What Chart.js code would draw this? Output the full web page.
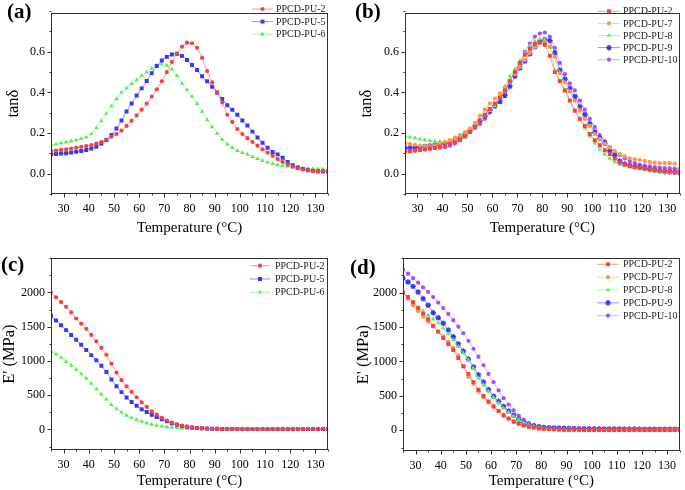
<!DOCTYPE html>
<html lang="en">
<head>
<meta charset="UTF-8">
<title>DMA curves</title>
<script src="https://cdn.jsdelivr.net/npm/chart.js"></script>
<style>
  body { margin: 0; background: #fff; }
  #wrap { position: relative; width: 685px; height: 490px; overflow: hidden; }
  canvas { position: absolute; }
  .tag { position: absolute; font: bold 21px 'Liberation Serif', serif; line-height: 21px; color: #000; }
</style>
</head>
<body>
<div id="wrap">
  <canvas id="chartA" width="342" height="240" style="left:0;top:0"></canvas>
  <canvas id="chartB" width="331" height="240" style="left:354px;top:0"></canvas>
  <canvas id="chartC" width="342" height="245" style="left:0;top:245px"></canvas>
  <canvas id="chartD" width="331" height="245" style="left:354px;top:245px"></canvas>
  <div class="tag" style="left:7px;top:1px">(a)</div>
  <div class="tag" style="left:355px;top:1px">(b)</div>
  <div class="tag" style="left:1px;top:254px">(c)</div>
  <div class="tag" style="left:350px;top:257px">(d)</div>
</div>

<script>
// temperature (°C), shared by every curve
const temps = [25,27,29,31,33,35,37,39,41,43, 45,47,49,51,53,55,57,59,61,63,
  65,67,69,71,73,75,77,79,81,83, 85,87,89,91,93,95,97,99,101,103,
  105,107,109,111,113,115,117,119,121,123, 125,127,129,131,133,135];

const xTicks = [30,40,50,60,70,80,90,100,110,120,130];
const tanTicks = [0, 0.2, 0.4, 0.6];
const modTicks = [0, 500, 1000, 1500, 2000];

// (a) tan delta
const tanA_PU2 = [.112,.114,.117,.120,.124,.128,.132,.136,.141,.148, .156,.168,.182,.195,.212,.235,.26,.287,.315,.345,
  .38,.415,.455,.50,.55,.59,.625,.645,.642,.62, .57,.505,.45,.40,.35,.29,.255,.22,.195,.175,
  .156,.138,.12,.104,.088,.072,.058,.045,.034,.026, .021,.016,.012,.011,.012,.014];
const tanA_PU5 = [.096,.097,.099,.101,.104,.108,.112,.117,.124,.133, .148,.166,.19,.222,.262,.306,.345,.385,.42,.456,
  .495,.53,.557,.575,.587,.59,.58,.56,.535,.51, .48,.455,.428,.398,.368,.337,.315,.29,.262,.237,
  .207,.178,.152,.128,.107,.095,.078,.058,.042,.031, .023,.017,.013,.012,.011,.011];
const tanA_PU6 = [.141,.145,.15,.155,.16,.165,.172,.18,.195,.225, .26,.295,.333,.368,.40,.421,.443,.462,.482,.50,
  .518,.533,.54,.533,.513,.482,.444,.413,.38,.345, .306,.265,.23,.198,.168,.145,.128,.113,.103,.095,
  .084,.074,.064,.055,.049,.043,.039,.036,.033,.031, .028,.026,.024,.023,.023,.022];

// (b) tan delta
const tanB_PU2 = [.110,.112,.114,.117,.120,.124,.128,.133,.139,.146, .155,.167,.183,.205,.23,.255,.29,.318,.345,.375,
  .41,.455,.50,.545,.585,.615,.638,.646,.635,.58, .50,.455,.41,.36,.31,.27,.235,.195,.165,.14,
  .115,.097,.075,.055,.045,.038,.033,.029,.025,.021, .018,.015,.013,.011,.01,.008];
const tanB_PU7 = [.15,.147,.142,.138,.136,.136,.14,.147,.155,.165, .178,.19,.205,.222,.25,.285,.315,.345,.37,.395,
  .425,.46,.49,.525,.56,.595,.625,.645,.648,.625, .575,.495,.45,.405,.36,.31,.27,.235,.195,.17,
  .148,.128,.112,.097,.085,.075,.071,.068,.063,.058, .054,.052,.052,.052,.05,.025];
const tanB_PU8 = [.185,.18,.175,.17,.165,.162,.159,.158,.158,.16, .165,.175,.19,.21,.235,.258,.285,.31,.335,.375,
  .43,.48,.515,.555,.595,.63,.652,.664,.66,.62, .51,.46,.415,.36,.31,.265,.225,.185,.15,.12,
  .095,.075,.057,.045,.038,.032,.028,.024,.02,.016, .012,.008,.006,.005,.005,.005];
const tanB_PU9 = [.125,.127,.129,.131,.134,.137,.14,.145,.15,.157, .165,.175,.19,.21,.235,.26,.285,.31,.335,.355,
  .385,.43,.48,.52,.555,.59,.625,.65,.66,.655, .595,.51,.465,.42,.38,.33,.29,.245,.205,.175,
  .15,.115,.09,.062,.047,.04,.035,.031,.026,.021, .017,.013,.01,.008,.007,.006];
const tanB_PU10 = [.11,.112,.114,.117,.12,.123,.126,.128,.13,.138, .148,.165,.185,.205,.225,.245,.27,.3,.33,.37,
  .41,.455,.5,.545,.6,.64,.675,.69,.695,.675, .62,.545,.49,.445,.41,.36,.315,.27,.23,.19,
  .16,.13,.105,.092,.075,.062,.052,.045,.04,.036, .033,.03,.028,.026,.025,.022];

// (c) storage modulus, MPa
const modC_PU2 = [2000,1930,1860,1790,1710,1620,1545,1470,1380,1285, 1190,1090,960,830,720,630,550,470,395,330,
  265,215,170,130,100,75,55,40,30,22, 16,12,9,7,6,5,5,5,4,4,
  4,4,4,4,4,4,4,4,4,4, 4,4,4,4,4,4];
const modC_PU5 = [1660,1590,1520,1450,1380,1310,1235,1160,1085,1010, 930,840,730,630,545,466,400,345,295,255,
  215,180,148,118,92,68,50,38,28,22, 18,14,11,9,8,7,6,6,5,5,
  5,5,5,5,5,5,5,5,5,5, 5,5,5,5,5,5];
const modC_PU6 = [1140,1100,1050,990,935,875,810,745,670,590, 515,440,360,300,250,205,170,140,115,92,
  72,58,47,38,30,24,19,15,12,10, 8,7,6,5,5,5,5,5,5,5,
  5,5,5,5,5,5,5,5,5,5, 5,5,5,5,5,5];

// (d) storage modulus, MPa
const modD_PU2 = [2000,1935,1860,1775,1695,1614,1520,1430,1340,1255, 1166,1050,930,820,700,588,500,420,350,280,
  217,170,125,95,72,53,40,28,22,18, 15,12,10,9,8,7,6,6,5,5,
  5,5,5,5,5,5,5,5,5,5, 5,5,5,5,5,5];
const modD_PU7 = [2010,1910,1815,1730,1650,1576,1510,1440,1365,1285, 1200,1085,930,775,675,564,480,405,335,280,
  227,175,135,100,76,58,42,30,22,17, 14,11,9,8,7,6,6,5,5,5,
  5,5,5,5,5,5,5,5,5,5, 5,5,5,5,5,5];
const modD_PU8 = [2010,1935,1865,1795,1730,1672,1615,1560,1485,1400, 1311,1215,1120,1020,900,757,660,565,475,395,
  323,260,205,155,115,82,60,42,30,24, 20,17,15,13,12,11,10,10,10,10,
  10,10,10,10,10,10,10,10,10,10, 10,10,10,10,10,10];
const modD_PU9 = [2212,2154,2090,2010,1913,1817,1710,1635,1555,1455, 1359,1255,1150,1035,920,805,700,590,495,420,
  347,280,220,160,115,82,62,48,40,36, 34,32,30,28,26,25,24,23,22,21,
  20,20,19,19,18,18,17,17,16,16, 16,15,15,15,15,15];
const modD_PU10 = [2337,2275,2210,2145,2075,2010,1935,1855,1775,1690, 1600,1505,1410,1300,1185,1070,945,820,700,580,
  467,375,290,215,155,106,80,62,48,40, 34,30,26,22,18,15,12,9,6,4,
  3,2,2,2,2,2,2,2,2,2, 2,2,2,2,2,2];

// colours
const RED = { mark: 'rgb(245,65,65)', line: 'rgba(250,120,120,0.75)' };
const BLUE = { mark: 'rgb(55,55,245)', line: 'rgba(110,110,250,0.75)' };
const GREEN = { mark: 'rgb(90,235,90)', line: 'rgba(140,245,140,0.75)' };
const ORANGE = { mark: 'rgb(255,150,70)', line: 'rgba(255,185,125,0.75)' };
const PURPLE = { mark: 'rgb(165,80,255)', line: 'rgba(200,145,255,0.75)' };

const FONT = "'Liberation Serif', 'Times New Roman', serif";

function serie(label, values, col, shape) {
  let r = 2.1;
  if (shape === 'rect') r = 2.8;
  if (shape === 'triangle') r = 2.6;
  if (shape === 'star') r = 2.8;
  return {
    label: label,
    data: temps.map((t, i) => ({ x: t, y: values[i] })),
    borderColor: col.line,
    borderWidth: 1,
    pointBackgroundColor: col.mark,
    pointBorderColor: col.mark,
    pointBorderWidth: shape === 'star' ? 1.3 : 0,
    pointStyle: shape,
    pointRadius: r,
    tension: 0
  };
}

// frame, minor ticks and the little legend box
const dmaPlugin = {
  id: 'dma',
  afterDraw(chart, args, o) {
    const { ctx, chartArea: a, scales: { x, y } } = chart;
    const L = Math.round(a.left) + 0.5, R = Math.round(a.right) - 0.5;
    const T = Math.round(a.top) + 0.5, B = Math.round(a.bottom) - 0.5;
    ctx.save();
    ctx.strokeStyle = '#333';
    ctx.lineWidth = 1;
    ctx.strokeRect(L, T, R - L, B - T);

    ctx.beginPath();
    for (let v = 25; v <= 135; v += 5) {
      const px = Math.round(x.getPixelForValue(v)) + 0.5;
      const len = v % 10 === 0 ? 4 : 2;
      ctx.moveTo(px, B); ctx.lineTo(px, B + len);
    }
    const n = Math.round((o.yMax - o.yMinorStart) / o.yMinor);
    for (let k = 0; k <= n; k++) {
      const v = o.yMinorStart + k * o.yMinor;
      const py = Math.round(y.getPixelForValue(v)) + 0.5;
      const major = o.yMajor.some(m => Math.abs(m - v) < o.yMinor / 10);
      ctx.moveTo(L, py); ctx.lineTo(L - (major ? 4 : 2), py);
    }
    ctx.stroke();

    // legend
    const lg = o.legend;
    ctx.font = '10px ' + FONT;
    ctx.textBaseline = 'middle';
    chart.data.datasets.forEach((ds, i) => {
      const yy = lg.y0 + i * lg.dy;
      ctx.strokeStyle = ds.borderColor;
      ctx.lineWidth = 1;
      ctx.beginPath();
      ctx.moveTo(lg.x0, yy); ctx.lineTo(lg.x1, yy);
      ctx.stroke();
      ctx.fillStyle = ds.pointBackgroundColor;
      ctx.strokeStyle = ds.pointBackgroundColor;
      ctx.lineWidth = ds.pointBorderWidth;
      Chart.helpers.drawPoint(ctx, { pointStyle: ds.pointStyle, radius: ds.pointRadius, rotation: 0,
        borderWidth: ds.pointBorderWidth }, (lg.x0 + lg.x1) / 2, yy);
      ctx.fillStyle = '#222';
      ctx.fillText(ds.label, lg.tx, yy + 0.5);
    });
    ctx.restore();
  }
};

function panel(id, p) {
  return new Chart(document.getElementById(id), {
    type: 'line',
    data: { datasets: p.series },
    options: {
      responsive: false,
      animation: false,
      layout: { padding: { top: p.padTop, right: p.padRight, left: 0, bottom: 0 } },
      plugins: {
        legend: { display: false },
        tooltip: { enabled: false },
        dma: { yMax: p.yMax, yMinorStart: p.yMinorStart, yMinor: p.yMinor, yMajor: p.yTicks, legend: p.legend }
      },
      scales: {
        x: {
          type: 'linear', min: 25, max: 135,
          afterBuildTicks: s => { s.ticks = xTicks.map(v => ({ value: v })); },
          afterFit: s => { s.height = p.xHeight; },
          grid: { display: false, drawTicks: false },
          border: { display: false },
          ticks: { padding: 8, color: '#000', font: { family: FONT, size: 12 }, maxRotation: 0, autoSkip: false },
          title: { display: true, text: 'Temperature (°C)', color: '#000', font: { family: FONT, size: 15 },
            padding: { top: 0, bottom: p.xTitlePad } }
        },
        y: {
          type: 'linear', min: p.yMin, max: p.yMax,
          afterBuildTicks: s => { s.ticks = p.yTicks.map(v => ({ value: v })); },
          afterFit: s => { s.width = p.yWidth; },
          grid: { display: false, drawTicks: false },
          border: { display: false },
          ticks: { padding: 6, color: '#000', font: { family: FONT, size: 12 }, callback: p.fmt },
          title: { display: true, text: p.yTitle, color: '#000', font: { family: FONT, size: 16.5 },
            padding: { top: p.yTitlePad, bottom: 0 } }
        }
      }
    },
    plugins: [dmaPlugin]
  });
}

const tanFmt = v => v.toFixed(1);
const modFmt = v => String(v);

panel('chartA', {
  series: [
    serie('PPCD-PU-2', tanA_PU2, RED, 'circle'),
    serie('PPCD-PU-5', tanA_PU5, BLUE, 'rect'),
    serie('PPCD-PU-6', tanA_PU6, GREEN, 'triangle')
  ],
  yMin: -0.1, yMax: 0.79, yTicks: tanTicks, yMinorStart: -0.1, yMinor: 0.1, fmt: tanFmt, yTitle: 'tanδ',
  padTop: 1, padRight: 14, yWidth: 51, xHeight: 46, xTitlePad: 3, yTitlePad: 4,
  legend: { x0: 252, x1: 273, tx: 276, y0: 9, dy: 12.6 }
});

panel('chartB', {
  series: [
    serie('PPCD-PU-2', tanB_PU2, RED, 'rect'),
    serie('PPCD-PU-7', tanB_PU7, ORANGE, 'circle'),
    serie('PPCD-PU-8', tanB_PU8, GREEN, 'triangle'),
    serie('PPCD-PU-9', tanB_PU9, BLUE, 'star'),
    serie('PPCD-PU-10', tanB_PU10, PURPLE, 'circle')
  ],
  yMin: -0.1, yMax: 0.79, yTicks: tanTicks, yMinorStart: -0.1, yMinor: 0.1, fmt: tanFmt, yTitle: 'tanδ',
  padTop: 1, padRight: 5, yWidth: 51, xHeight: 46, xTitlePad: 3, yTitlePad: 3,
  legend: { x0: 244, x1: 266, tx: 269, y0: 11.3, dy: 12.1 }
});

panel('chartC', {
  series: [
    serie('PPCD-PU-2', modC_PU2, RED, 'circle'),
    serie('PPCD-PU-5', modC_PU5, BLUE, 'rect'),
    serie('PPCD-PU-6', modC_PU6, GREEN, 'triangle')
  ],
  yMin: -300, yMax: 2500, yTicks: modTicks, yMinorStart: -250, yMinor: 250, fmt: modFmt, yTitle: "E' (MPa)",
  padTop: 12, padRight: 14, yWidth: 51, xHeight: 40, xTitlePad: 0, yTitlePad: 0,
  legend: { x0: 250, x1: 270, tx: 275, y0: 20.7, dy: 13.3 }
});

panel('chartD', {
  series: [
    serie('PPCD-PU-2', modD_PU2, RED, 'rect'),
    serie('PPCD-PU-7', modD_PU7, ORANGE, 'circle'),
    serie('PPCD-PU-8', modD_PU8, GREEN, 'triangle'),
    serie('PPCD-PU-9', modD_PU9, BLUE, 'star'),
    serie('PPCD-PU-10', modD_PU10, PURPLE, 'circle')
  ],
  yMin: -300, yMax: 2500, yTicks: modTicks, yMinorStart: -250, yMinor: 250, fmt: modFmt, yTitle: "E' (MPa)",
  padTop: 11, padRight: 5, yWidth: 49, xHeight: 39, xTitlePad: 0, yTitlePad: 0,
  legend: { x0: 243, x1: 265, tx: 269, y0: 19.3, dy: 12.85 }
});
</script>
</body>
</html>
